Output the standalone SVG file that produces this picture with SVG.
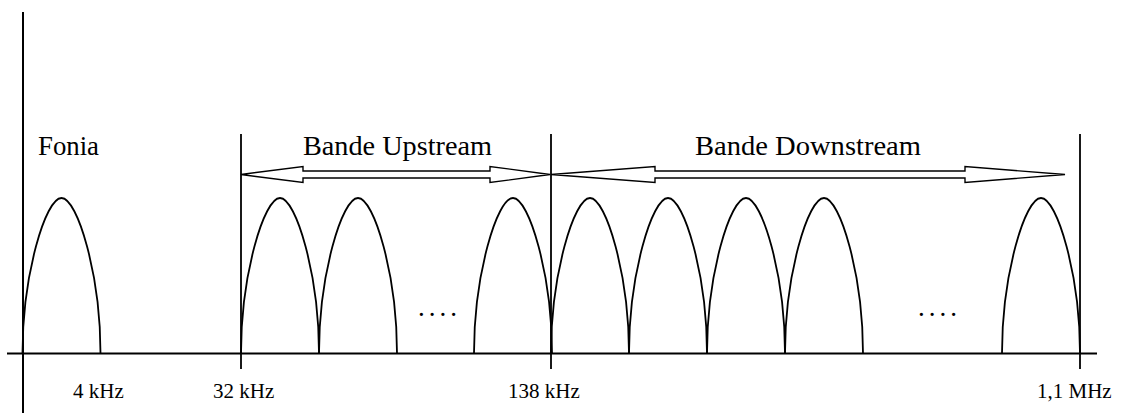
<svg xmlns="http://www.w3.org/2000/svg" xmlns:xlink="http://www.w3.org/1999/xlink" width="1123" height="413" viewBox="0 0 1123 413">
  <style>
    .ln { stroke: #000; stroke-width: 2; fill: none; }
    .tick { stroke: #000; stroke-width: 1.8; fill: none; }
    .lobe { stroke: #000; stroke-width: 1.8; fill: none; }
    .arr { stroke: #000; stroke-width: 1.4; fill: #fff; stroke-linejoin: miter; }
    .top { font-family: "Liberation Serif", "Times New Roman", serif; font-size: 27px; fill: #000; }
    .bot { font-family: "Liberation Serif", "Times New Roman", serif; font-size: 21px; fill: #000; }
    .dots { font-family: "Liberation Serif", "Times New Roman", serif; font-size: 27px; fill: #000; letter-spacing: 4px; }
  </style>
  <defs>
    <path id="lobe" class="lobe" d="M0,353 C0,275 23,198 39,198 C55,198 78,275 78,353"/>
  </defs>
  <rect width="1123" height="413" fill="#fff"/>

  <g id="axes">
    <line class="ln" x1="23" y1="12" x2="23" y2="413"/>
    <line class="ln" x1="7" y1="353.5" x2="1097" y2="353.5"/>
  </g>

  <g id="ticks">
    <line class="tick" x1="241" y1="134" x2="241" y2="369"/>
    <line class="tick" x1="551" y1="134" x2="551" y2="369"/>
    <line class="tick" x1="1080" y1="134" x2="1080" y2="369"/>
  </g>

  <g id="lobes">
    <use xlink:href="#lobe" x="22.5"/>
    <use xlink:href="#lobe" x="241"/>
    <use xlink:href="#lobe" x="319"/>
    <use xlink:href="#lobe" x="474"/>
    <use xlink:href="#lobe" x="551"/>
    <use xlink:href="#lobe" x="629"/>
    <use xlink:href="#lobe" x="707"/>
    <use xlink:href="#lobe" x="785"/>
    <use xlink:href="#lobe" x="1002"/>
  </g>

  <g id="connectors">
    <polygon id="arrow-upstream" class="arr" points="241,174.5 303,166.5 303,171 490,171 490,166.5 550,174.5 490,182.5 490,178 303,178 303,182.5"/>
    <polygon id="arrow-downstream" class="arr" points="551,174.5 655,166.5 655,171 965,171 965,166.5 1065,174.5 965,182.5 965,178 655,178 655,182.5"/>
  </g>

  <g id="labels">
    <text class="top" x="38" y="155" textLength="61" lengthAdjust="spacingAndGlyphs">Fonia</text>
    <text class="top" x="303" y="155" textLength="189" lengthAdjust="spacingAndGlyphs">Bande Upstream</text>
    <text class="top" x="695" y="155" textLength="226" lengthAdjust="spacingAndGlyphs">Bande Downstream</text>
    <text class="dots" x="418" y="316">....</text>
    <text class="dots" x="918" y="316">....</text>
    <text class="bot" x="73" y="398">4 kHz</text>
    <text class="bot" x="213" y="398">32 kHz</text>
    <text class="bot" x="508" y="398">138 kHz</text>
    <text class="bot" x="1037" y="398">1,1 MHz</text>
  </g>
</svg>
